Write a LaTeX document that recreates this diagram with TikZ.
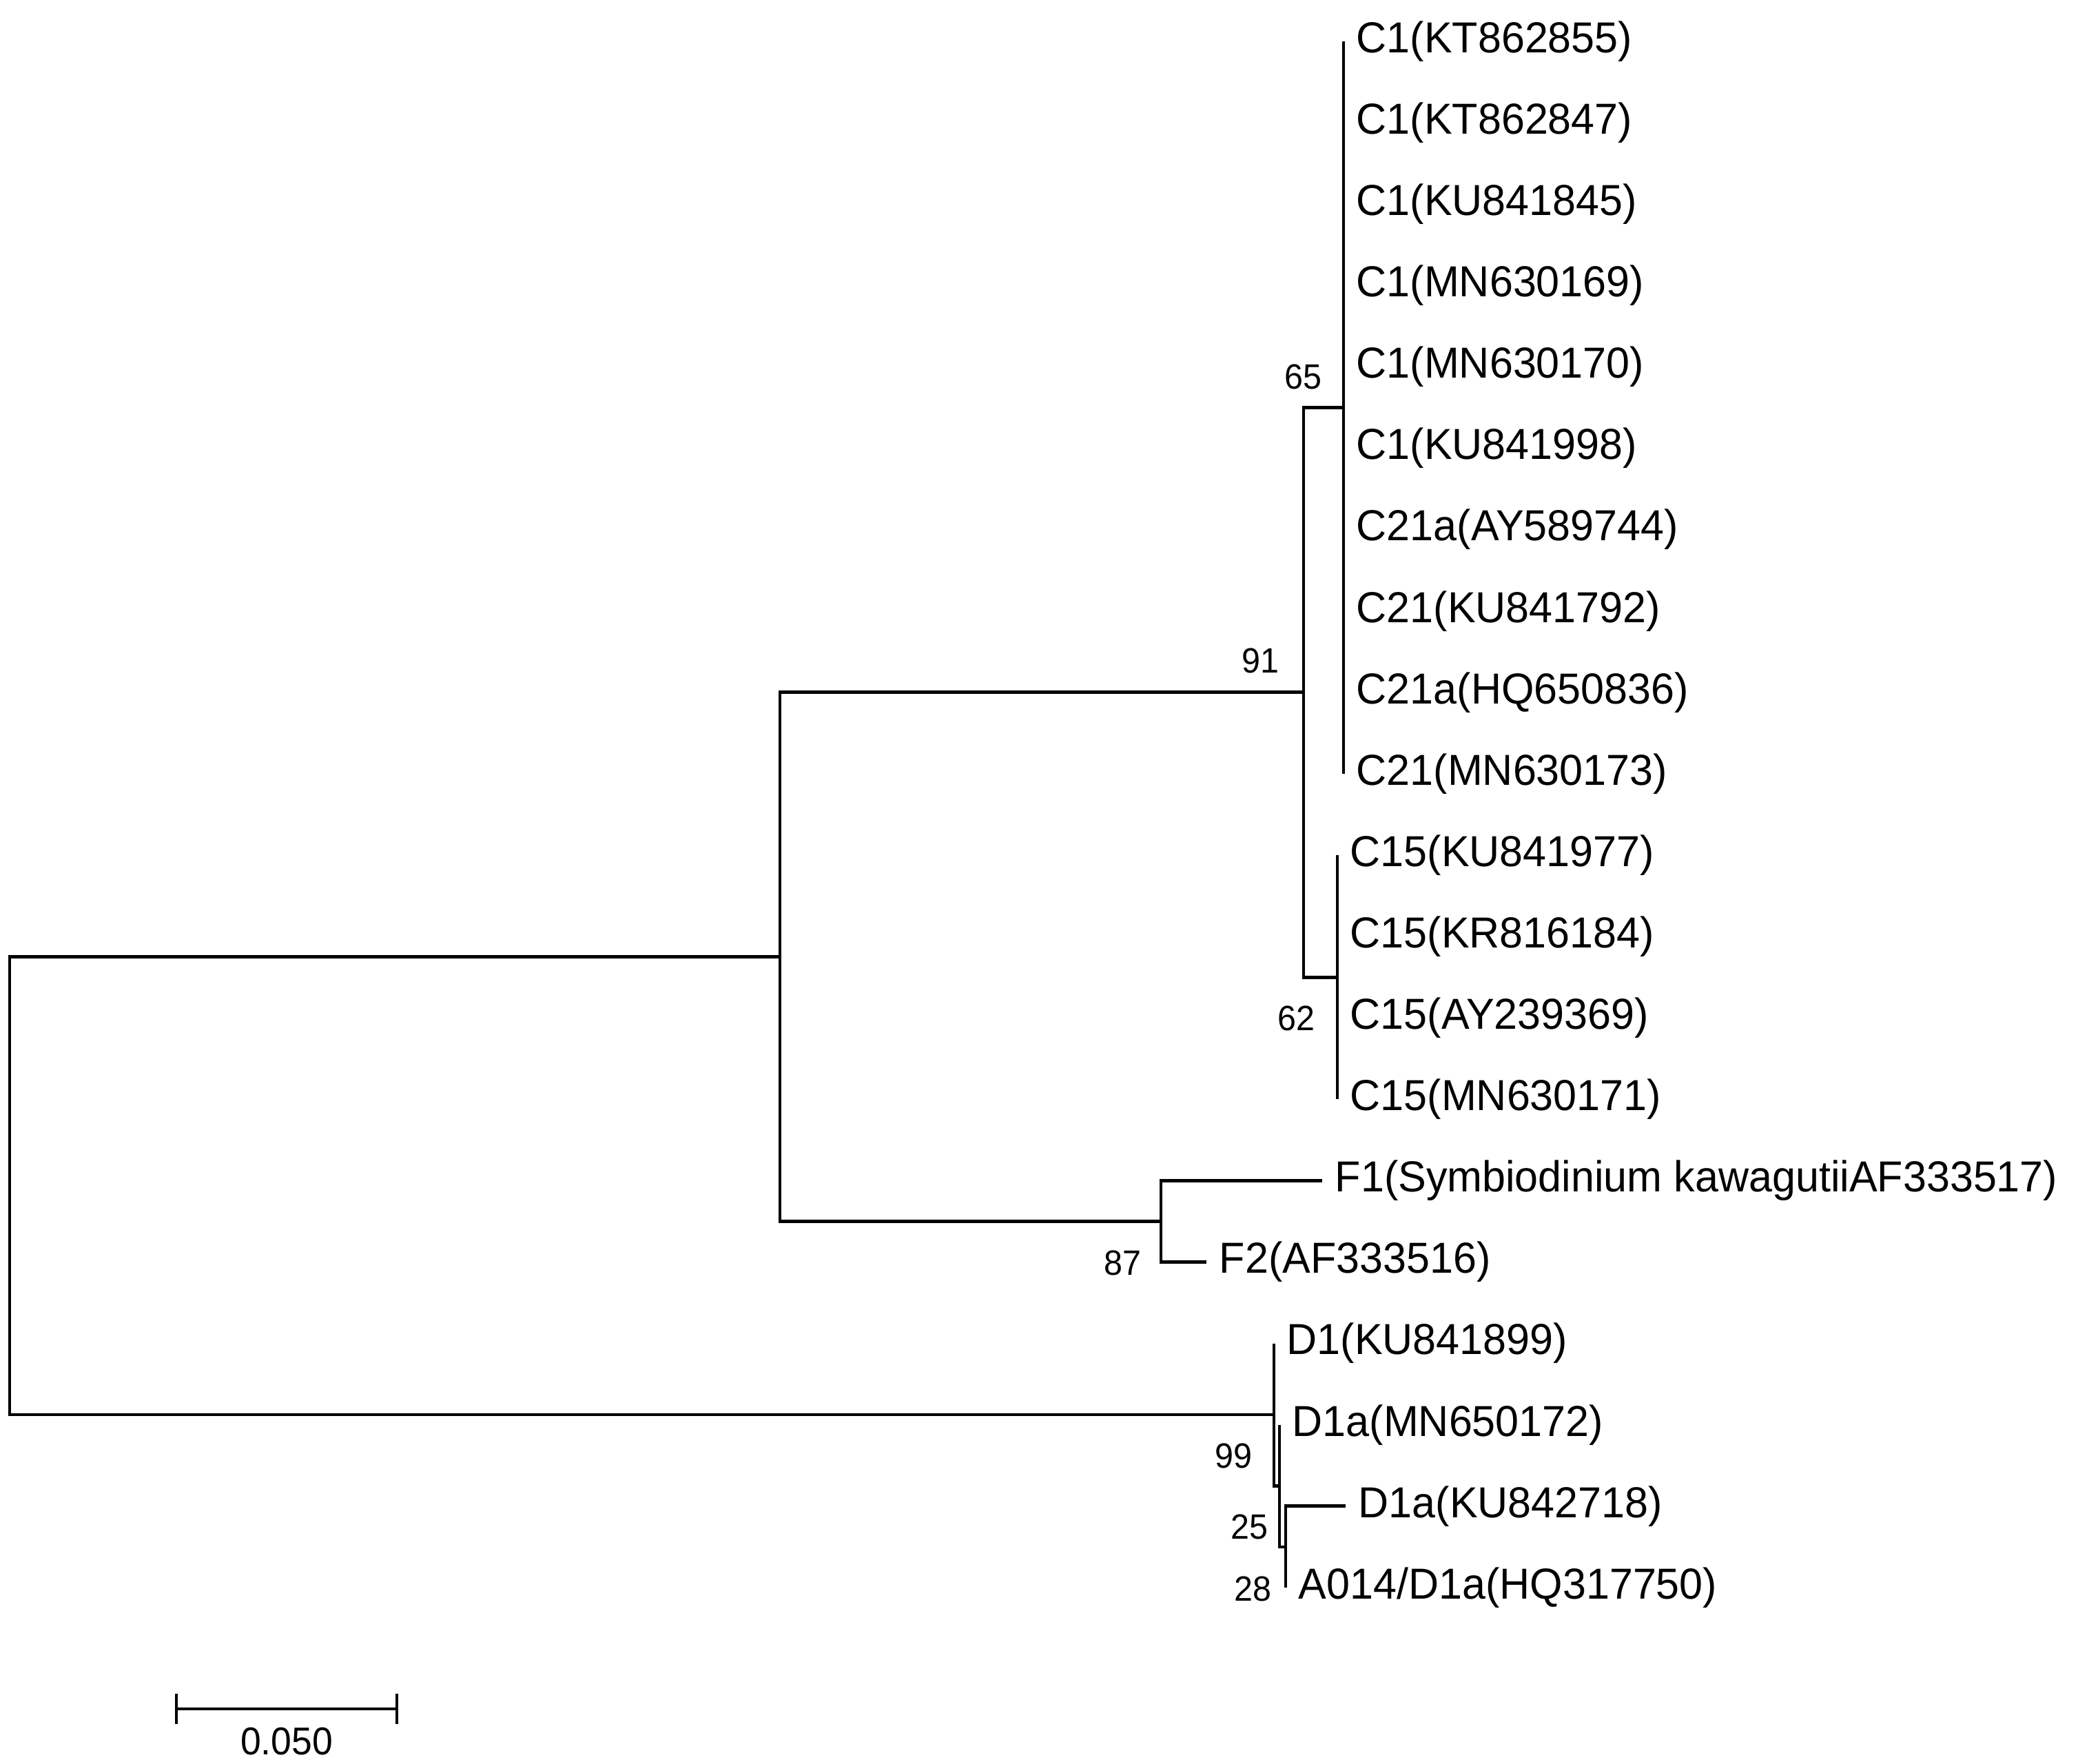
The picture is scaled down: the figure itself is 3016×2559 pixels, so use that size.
\documentclass[tikz,border=0pt]{standalone}
\usepackage{fontspec}
\setmainfont{Liberation Sans}
\newfontfamily\treefont[FakeStretch=0.97]{Liberation Sans}
\newfontfamily\bootfont[FakeStretch=0.95]{Liberation Sans}
\usetikzlibrary{positioning}

\begin{document}
\begin{tikzpicture}[
    x=0.01cm, y=-0.01cm,
    branch/.style={draw=black, line width=1.35pt},
    leaf/.style={anchor=west, inner xsep=0.18cm, inner ysep=0pt, font=\treefont\fontsize{17.9}{20}\selectfont},
    boot/.style={inner sep=0pt, font=\bootfont\fontsize{14.5}{16}\selectfont},
    barlabel/.style={inner sep=0pt, font=\bootfont\fontsize{16}{18}\selectfont}
]
    \useasboundingbox (0,0) rectangle (3016,2559);

    \node[leaf] (kt862855) at (1950,60) {C1(KT862855)};
    \node[leaf] (kt862847) at (1950,178.1) {C1(KT862847)};
    \node[leaf] (ku841845) at (1950,296.2) {C1(KU841845)};
    \node[leaf] (mn630169) at (1950,414.3) {C1(MN630169)};
    \node[leaf] (mn630170) at (1950,532.4) {C1(MN630170)};
    \node[leaf] (ku841998) at (1950,650.5) {C1(KU841998)};
    \node[leaf] (ay589744) at (1950,768.6) {C21a(AY589744)};
    \node[leaf] (ku841792) at (1950,886.7) {C21(KU841792)};
    \node[leaf] (hq650836) at (1950,1004.8) {C21a(HQ650836)};
    \node[leaf] (mn630173) at (1950,1122.9) {C21(MN630173)};
    \node[leaf] (ku841977) at (1941,1241) {C15(KU841977)};
    \node[leaf] (kr816184) at (1941,1359.1) {C15(KR816184)};
    \node[leaf] (ay239369) at (1941,1477.2) {C15(AY239369)};
    \node[leaf] (mn630171) at (1941,1595.3) {C15(MN630171)};
    \node[leaf] (af333517) at (1919,1713.4) {F1(Symbiodinium kawagutiiAF333517)};
    \node[leaf] (af333516) at (1751,1831.5) {F2(AF333516)};
    \node[leaf] (ku841899) at (1849,1949.6) {D1(KU841899)};
    \node[leaf] (mn650172) at (1857,2067.7) {D1a(MN650172)};
    \node[leaf] (ku842718) at (1953,2185.8) {D1a(KU842718)};
    \node[leaf] (hq317750) at (1866,2303.9) {A014/D1a(HQ317750)};

    \coordinate (nodeC1) at (1950,591.45);
    \coordinate (nodeC15) at (1941,1418.15);
    \coordinate (nodeC) at (1892,1004.8);
    \coordinate (nodeF) at (1685,1772.45);
    \coordinate (nodeCF) at (1132,1388.6);
    \coordinate (nodeD2) at (1866,2244.85);
    \coordinate (nodeD1) at (1857,2156.3);
    \coordinate (nodeD) at (1849,2052.95);
    \coordinate (root) at (14,1720.8);

    \draw[branch] (nodeC1) |- (kt862855.west);
    \draw[branch] (nodeC1) |- (kt862847.west);
    \draw[branch] (nodeC1) |- (ku841845.west);
    \draw[branch] (nodeC1) |- (mn630169.west);
    \draw[branch] (nodeC1) |- (mn630170.west);
    \draw[branch] (nodeC1) |- (ku841998.west);
    \draw[branch] (nodeC1) |- (ay589744.west);
    \draw[branch] (nodeC1) |- (ku841792.west);
    \draw[branch] (nodeC1) |- (hq650836.west);
    \draw[branch] (nodeC1) |- (mn630173.west);
    \draw[branch] (nodeC15) |- (ku841977.west);
    \draw[branch] (nodeC15) |- (kr816184.west);
    \draw[branch] (nodeC15) |- (ay239369.west);
    \draw[branch] (nodeC15) |- (mn630171.west);
    \draw[branch] (nodeC) |- (nodeC1);
    \draw[branch] (nodeC) |- (nodeC15);
    \draw[branch] (nodeF) |- (af333517.west);
    \draw[branch] (nodeF) |- (af333516.west);
    \draw[branch] (nodeCF) |- (nodeC);
    \draw[branch] (nodeCF) |- (nodeF);
    \draw[branch] (nodeD2) |- (ku842718.west);
    \draw[branch] (nodeD2) |- (hq317750.west);
    \draw[branch] (nodeD1) |- (mn650172.west);
    \draw[branch] (nodeD1) |- (nodeD2);
    \draw[branch] (nodeD) |- (ku841899.west);
    \draw[branch] (nodeD) |- (nodeD1);
    \draw[branch] (root) |- (nodeCF);
    \draw[branch] (root) |- (nodeD);

    \node[boot, above left=0.27cm and 0.35cm of nodeC] (bs91) {91};
    \node[boot, above left=0.26cm and 0.31cm of nodeC1] (bs65) {65};
    \node[boot, below left=0.41cm and 0.32cm of nodeC15] (bs62) {62};
    \node[boot, below left=0.42cm and 0.28cm of nodeF] (bs87) {87};
    \node[boot, below left=0.41cm and 0.31cm of nodeD] (bs99) {99};
    \node[boot, below left=0.41cm and 0.16cm of nodeD1] (bs25) {25};
    \node[boot, below left=0.42cm and 0.20cm of nodeD2] (bs28) {28};

    \coordinate (barL) at (256,2480);
    \coordinate (barR) at (576,2480);
    \draw[branch] (barL) -- (barR);
    \draw[branch] ([yshift=0.22cm]barL) -- ([yshift=-0.22cm]barL);
    \draw[branch] ([yshift=0.22cm]barR) -- ([yshift=-0.22cm]barR);
    \node[barlabel, anchor=north] (barvalue) at (416,2506) {0.050};
\end{tikzpicture}
\end{document}
